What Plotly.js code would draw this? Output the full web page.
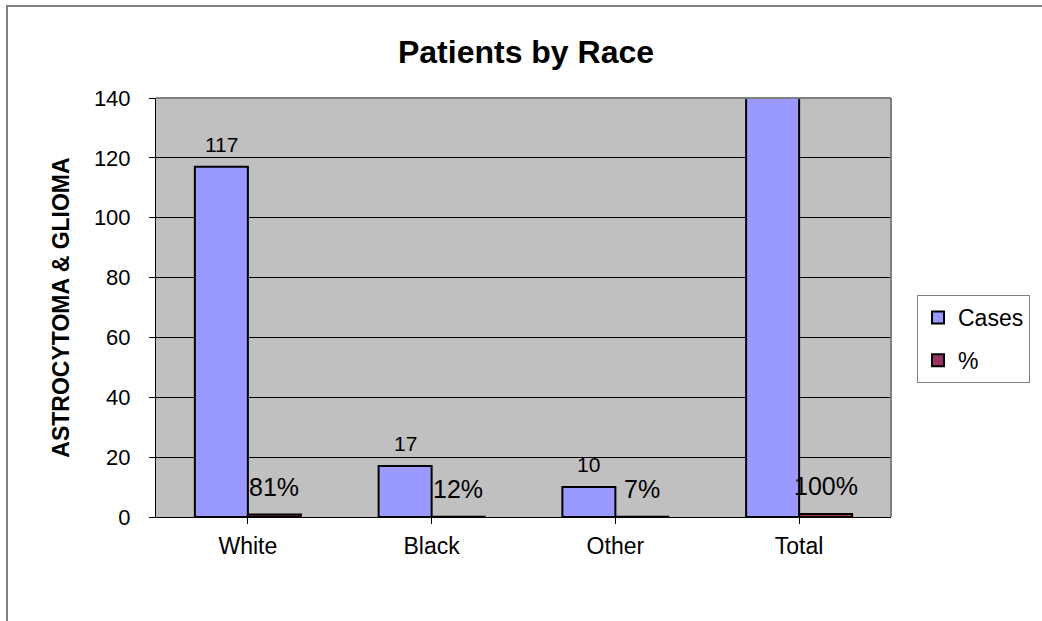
<!DOCTYPE html>
<html>
<head>
<meta charset="utf-8">
<script src="https://cdn.plot.ly/plotly-3.0.1.min.js"></script>
<style>
html,body{margin:0;padding:0;background:#fff;}
#chart{width:1042px;height:621px;}
</style>
</head>
<body>
<div id="chart"></div>
<script>
// ---- data ----
const categories = ['White', 'Black', 'Other', 'Total'];
const cases = [117, 17, 10, 144];
const percent = [0.81, 0.12, 0.07, 1.00];
const seriesNames = ['Cases', '%'];
const yTicks = [0, 20, 40, 60, 80, 100, 120, 140];

// ---- style ----
const FONT = 'Liberation Sans, Arial, sans-serif';
const yMax = 140;
const bargap = 0.423;
const L = 156, R = 151, T = 98, B = 104, W = 1042, H = 621;
const plotW = W - L - R, plotH = H - T - B;

const xIdx = categories.map((c, i) => i);
const halfBar = (1 - bargap) / 4; // center offset of each bar in a group of 2

const traces = [
  {
    type: 'bar', name: seriesNames[0], x: xIdx, y: cases,
    marker: {color: '#9999FF', line: {color: '#000000', width: 2}},
    legendgroup: 'a', hoverinfo: 'none'
  },
  {
    type: 'bar', name: seriesNames[1], x: xIdx, y: percent,
    marker: {color: '#993366', line: {color: '#000000', width: 2}},
    legendgroup: 'b', hoverinfo: 'none'
  }
];

const annotations = [];
cases.forEach((v, i) => {
  if (v <= yMax) {
    annotations.push({
      x: i - halfBar, y: v, xref: 'x', yref: 'y', text: String(v),
      showarrow: false, yanchor: 'bottom', yshift: 9,
      font: {family: FONT, size: 21, color: '#000'}
    });
  }
});
percent.forEach((v, i) => {
  annotations.push({
    x: i + halfBar, y: v, xref: 'x', yref: 'y', text: Math.round(v * 100) + '%',
    showarrow: false, yanchor: 'bottom', yshift: 12,
    font: {family: FONT, size: 25, color: '#000'}
  });
});

const layout = {
  width: W, height: H,
  margin: {l: L, r: R, t: T, b: B, autoexpand: false},
  paper_bgcolor: '#ffffff',
  plot_bgcolor: '#C0C0C0',
  font: {family: FONT, color: '#000'},
  barmode: 'group', bargap: bargap, bargroupgap: 0,
  title: {
    text: '<b>Patients by Race</b>',
    font: {family: FONT, size: 32, color: '#000'},
    x: 526 / W, xref: 'container', xanchor: 'center',
    y: 1 - 52 / H, yref: 'container', yanchor: 'middle'
  },
  xaxis: {
    range: [-0.5, categories.length - 0.5],
    tickmode: 'array', tickvals: xIdx, ticktext: categories,
    tickson: 'boundaries', ticks: 'outside', ticklen: 6, tickcolor: '#000', tickwidth: 1,
    showline: true, linecolor: '#000', linewidth: 1,
    showgrid: false, zeroline: false,
    tickfont: {family: FONT, size: 23, color: '#000'},
    ticklabelstandoff: 2,
    fixedrange: true
  },
  yaxis: {
    range: [0, yMax],
    tickmode: 'array', tickvals: yTicks,
    ticks: 'outside', ticklen: 6, tickcolor: '#000', tickwidth: 1,
    showline: true, linecolor: '#000', linewidth: 1,
    showgrid: true, gridcolor: '#000', gridwidth: 1,
    zeroline: false,
    tickfont: {family: FONT, size: 22, color: '#000'},
    ticklabelstandoff: 14,
    title: {text: '<b>ASTROCYTOMA & GLIOMA</b>', font: {family: FONT, size: 23, color: '#000'}, standoff: 17},
    fixedrange: true
  },
  legend: {
    x: (917 - L) / plotW, xanchor: 'left',
    y: (517 - 295) / plotH, yanchor: 'top',
    bgcolor: '#ffffff', bordercolor: '#808080', borderwidth: 1,
    font: {family: FONT, size: 23, color: '#000'},
    tracegroupgap: 10, traceorder: 'grouped'
  },
  shapes: [
    // plot area top and right border (grey)
    {type: 'line', xref: 'paper', yref: 'paper', x0: 0, x1: 1, y0: 1, y1: 1, line: {color: '#808080', width: 2}},
    {type: 'line', xref: 'paper', yref: 'paper', x0: 1, x1: 1, y0: 0, y1: 1, line: {color: '#808080', width: 2}},
    // outer chart frame
    {type: 'rect', xref: 'paper', yref: 'paper',
     x0: (7 - L) / plotW, x1: (W + 20 - L) / plotW,
     y0: (517 - 6) / plotH, y1: (517 - H - 20) / plotH,
     line: {color: '#808080', width: 2}}
  ],
  annotations: annotations,
  showlegend: true
};

Plotly.newPlot('chart', traces, layout, {displayModeBar: false, staticPlot: true});
</script>
</body>
</html>
